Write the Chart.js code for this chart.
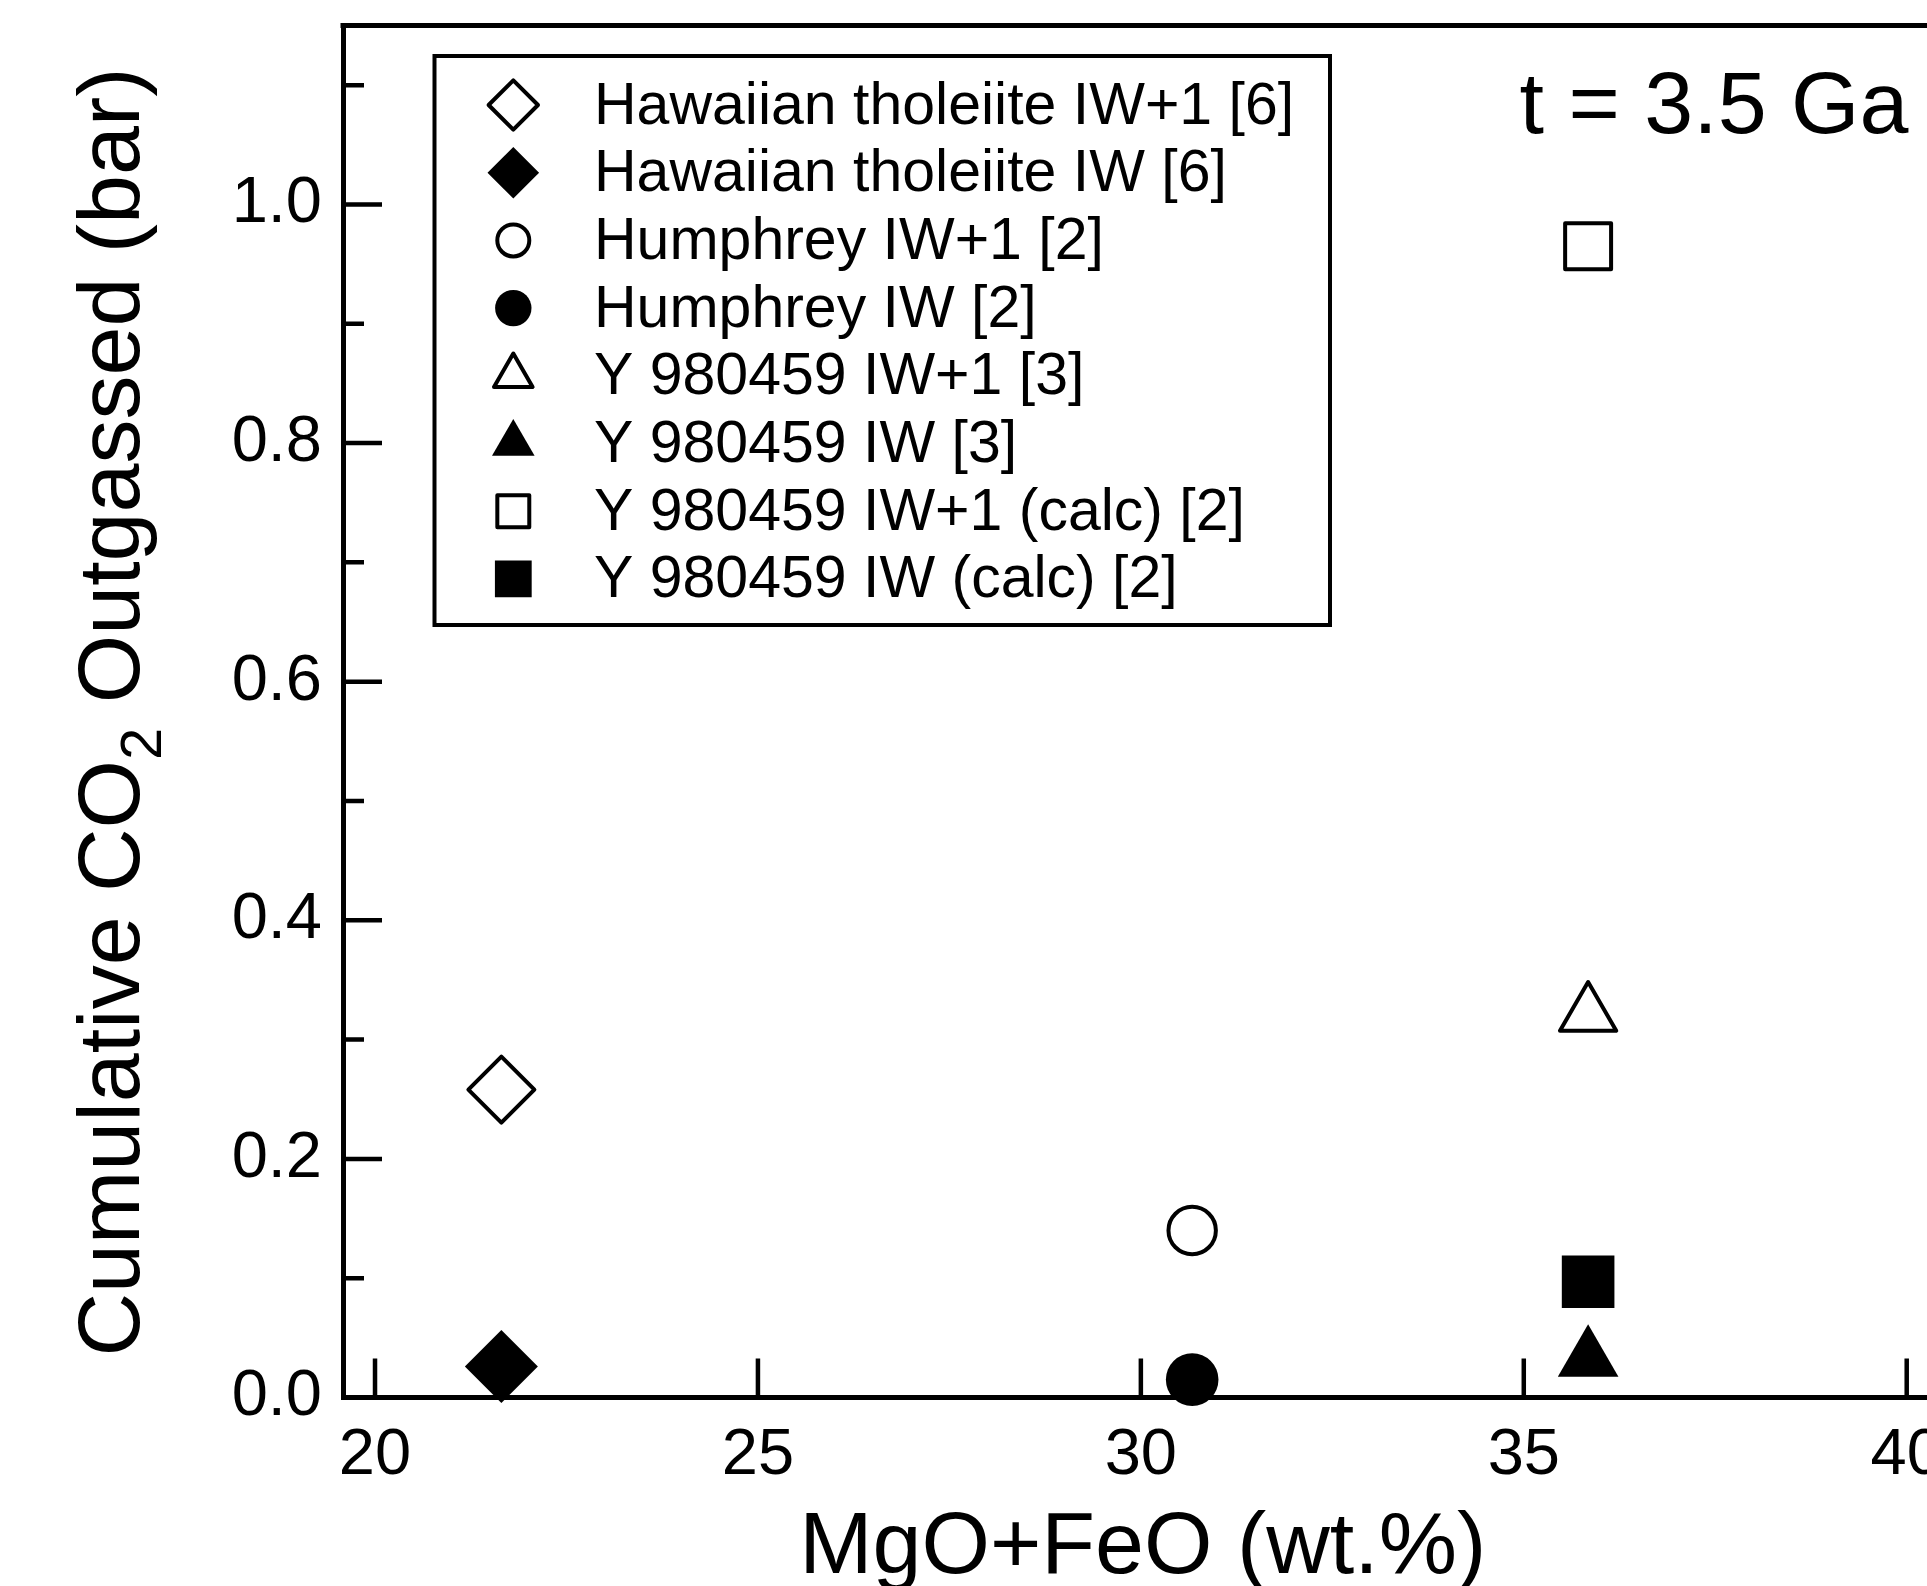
<!DOCTYPE html>
<html>
<head>
<meta charset="utf-8">
<title>Cumulative CO2 outgassed vs MgO+FeO</title>
<script src="https://cdn.jsdelivr.net/npm/chart.js@4.4.1/dist/chart.umd.min.js"></script>
<style>
  html, body { margin: 0; padding: 0; background: #fff; overflow: hidden; }
  #wrap { width: 2000px; height: 1586px; }
</style>
</head>
<body>
<div id="wrap"><canvas id="chart" width="2000" height="1586"></canvas></div>
<script>
// DATA (t = 3.5 Ga)
const seriesLabels = [
  "Hawaiian tholeiite IW+1 [6]",
  "Hawaiian tholeiite IW [6]",
  "Humphrey IW+1 [2]",
  "Humphrey IW [2]",
  "Y 980459 IW+1 [3]",
  "Y 980459 IW [3]",
  "Y 980459 IW+1 (calc) [2]",
  "Y 980459 IW (calc) [2]"
];
const mgoFeo = [21.65, 21.65, 30.67, 30.67, 35.84, 35.84, 35.84, 35.84];
const co2Outgassed = [0.258, 0.026, 0.140, 0.015, 0.321, 0.032, 0.965, 0.097];

const xTickValues = [20, 25, 30, 35, 40];
const yTickValues = [0, 0.2, 0.4, 0.6, 0.8, 1.0];
const yMinorValues = [0.1, 0.3, 0.5, 0.7, 0.9, 1.1];

const xTitle = "MgO+FeO (wt.%)";
const yTitleParts = ["Cumulative CO", "2", " Outgassed (bar)"];
const timeLabel = "t = 3.5 Ga";

// MODULE: marker styles
const shapes = ["rectRot", "rectRot", "circle", "circle", "triangle", "triangle", "rect", "rect"];
const filled = [false, true, false, true, false, true, false, true];
const plotRadius = [33, 36.5, 23.7, 26.3, 32.5, 35, 32.5, 37.2];
const legendRadius = [24.7, 25.8, 16, 18.2, 22.3, 24.6, 22.6, 26];

const FONT = '"Liberation Sans", Arial, Helvetica, sans-serif';
const INK = "#000";

const datasets = seriesLabels.map((label, i) => ({
  label: label,
  data: [{ x: mgoFeo[i], y: co2Outgassed[i] }],
  pointStyle: shapes[i],
  pointRadius: plotRadius[i],
  pointBorderWidth: filled[i] ? 0 : 4,
  pointBorderColor: INK,
  pointBackgroundColor: filled[i] ? INK : "#fff",
  showLine: false,
  clip: false
}));

// fixed plot box, no extra room for end labels
function fixBox(s, size) {
  if (s.isHorizontal()) s.height = size; else s.width = size;
  s.paddingTop = 0; s.paddingBottom = 0;
  s.paddingLeft = 0; s.paddingRight = 0;
}

// MODULE: frame, inward ticks, legend and titles
const decorations = {
  id: "decorations",
  beforeDatasetsDraw(chart) {
    const { ctx, chartArea: a, scales: { x, y } } = chart;
    ctx.save();
    ctx.strokeStyle = INK;
    ctx.lineWidth = 5;
    ctx.beginPath();
    ctx.moveTo(a.left - 2.5, a.top);
    ctx.lineTo(a.right, a.top);
    ctx.lineTo(a.right, a.bottom);
    ctx.stroke();

    ctx.lineWidth = 4.5;
    ctx.beginPath();
    xTickValues.forEach(v => {
      const px = x.getPixelForValue(v);
      ctx.moveTo(px, a.bottom);
      ctx.lineTo(px, a.bottom - 39);
    });
    yTickValues.forEach(v => {
      const py = y.getPixelForValue(v);
      ctx.moveTo(a.left, py);
      ctx.lineTo(a.left + 39, py);
    });
    yMinorValues.forEach(v => {
      const py = y.getPixelForValue(v);
      ctx.moveTo(a.left, py);
      ctx.lineTo(a.left + 21, py);
    });
    ctx.stroke();
    ctx.restore();
    ctx.lineJoin = "round";
  },
  afterDatasetsDraw(chart) {
    const ctx = chart.ctx;
    ctx.lineJoin = "miter";
    ctx.save();

    // legend box
    ctx.strokeStyle = INK;
    ctx.lineWidth = 4;
    ctx.strokeRect(434.5, 56, 895.5, 569);

    ctx.lineJoin = "round";
    ctx.font = "59px " + FONT;
    ctx.textAlign = "left";
    ctx.textBaseline = "alphabetic";
    chart.data.datasets.forEach((ds, i) => {
      const cy = 105 + i * 67.7;
      ctx.fillStyle = filled[i] ? INK : "#fff";
      ctx.strokeStyle = INK;
      ctx.lineWidth = 4;
      Chart.helpers.drawPoint(ctx, {
        pointStyle: shapes[i],
        radius: legendRadius[i],
        rotation: 0,
        borderWidth: filled[i] ? 0 : 4
      }, 513.3, cy);
      ctx.fillStyle = INK;
      ctx.fillText(ds.label, 594, cy + 18.5);
    });

    // annotation
    ctx.font = "88px " + FONT;
    ctx.fillText(timeLabel, 1519.5, 132.5);

    // x title
    ctx.textAlign = "center";
    ctx.fillText(xTitle, 1142.7, 1572.5);

    // y title with subscript
    ctx.translate(139, 712);
    ctx.rotate(-Math.PI / 2);
    ctx.textAlign = "left";
    const big = "88px " + FONT, small = "58px " + FONT;
    ctx.font = big;
    const w0 = ctx.measureText(yTitleParts[0]).width;
    const w2 = ctx.measureText(yTitleParts[2]).width;
    ctx.font = small;
    const w1 = ctx.measureText(yTitleParts[1]).width;
    let tx = -(w0 + w1 + w2) / 2;
    ctx.font = big;
    ctx.fillText(yTitleParts[0], tx, 0);
    tx += w0;
    ctx.font = small;
    ctx.fillText(yTitleParts[1], tx, 22);
    tx += w1;
    ctx.font = big;
    ctx.fillText(yTitleParts[2], tx, 0);
    ctx.restore();
  }
};

Chart.defaults.font.family = FONT;
Chart.defaults.color = INK;

new Chart(document.getElementById("chart"), {
  type: "scatter",
  data: { datasets: datasets },
  options: {
    responsive: false,
    animation: false,
    events: [],
    layout: { autoPadding: false, padding: { top: 25.5, right: 55, left: 0, bottom: 0 } },
    plugins: { legend: { display: false }, tooltip: { enabled: false } },
    scales: {
      x: {
        type: "linear",
        min: 19.582,
        max: 40.5,
        afterBuildTicks: s => { s.ticks = xTickValues.map(v => ({ value: v })); },
        afterFit: s => fixBox(s, 1586 - 1397.5),
        grid: { display: true, drawOnChartArea: false, drawTicks: false },
        border: { display: true, color: INK, width: 5 },
        ticks: {
          padding: 19.5,
          color: INK,
          maxRotation: 0,
          autoSkip: false,
          font: { family: FONT, size: 65 },
          callback: v => String(v)
        }
      },
      y: {
        type: "linear",
        min: 0,
        max: 1.15,
        afterBuildTicks: s => { s.ticks = yTickValues.map(v => ({ value: v })); },
        afterFit: s => fixBox(s, 343),
        grid: { display: true, drawOnChartArea: false, drawTicks: false },
        border: { display: true, color: INK, width: 5 },
        ticks: {
          padding: 21,
          color: INK,
          autoSkip: false,
          font: { family: FONT, size: 65 },
          callback: v => v.toFixed(1)
        }
      }
    }
  },
  plugins: [decorations]
});
</script>
</body>
</html>
